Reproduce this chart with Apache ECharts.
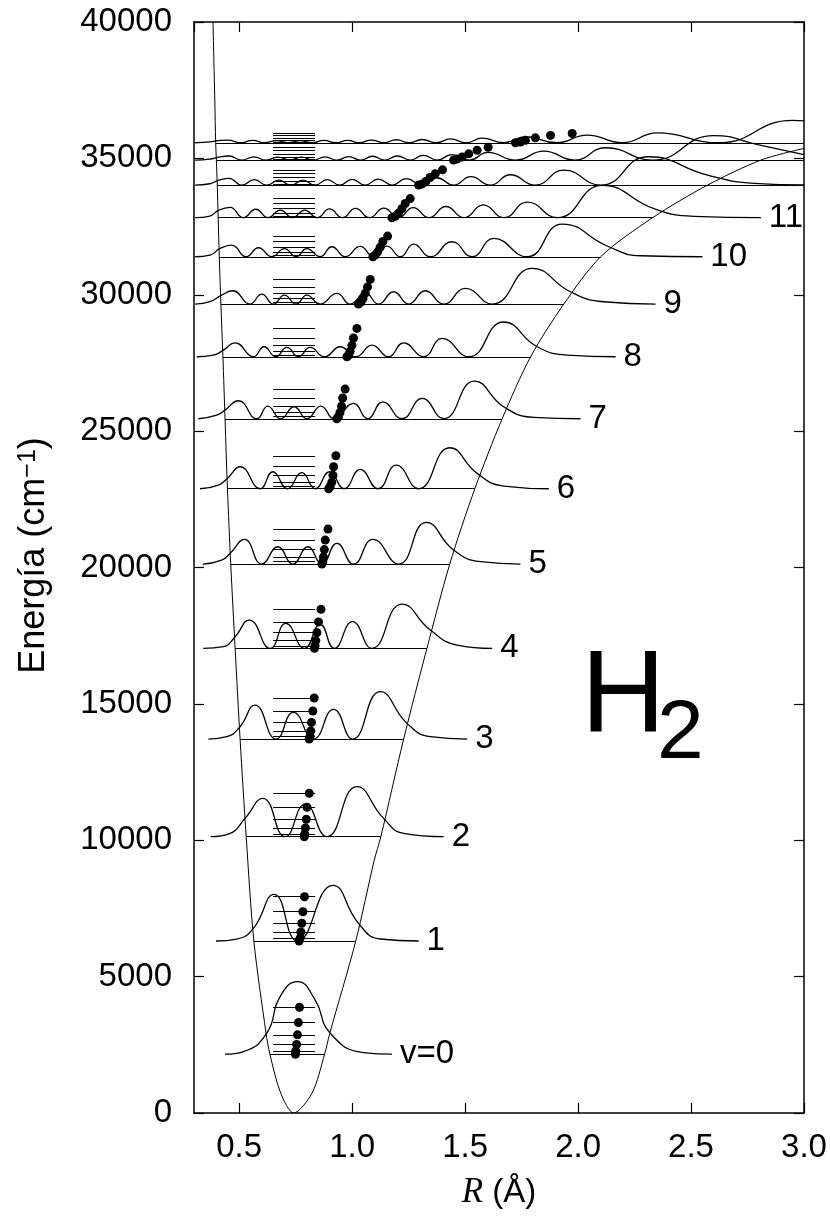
<!DOCTYPE html>
<html><head><meta charset="utf-8">
<script src="https://cdn.jsdelivr.net/npm/echarts@6/dist/echarts.min.js"></script>
<style>html,body{margin:0;padding:0;background:#fff}#c{width:830px;height:1218px}</style>
</head><body><div id="c"></div>
<script>
const FONT = 'Liberation Sans, Arial, Helvetica, sans-serif';

// tick labels
const yTicks = [0, 5000, 10000, 15000, 20000, 25000, 30000, 35000, 40000];
const xTickLabels = ['0.5', '1.0', '1.5', '2.0', '2.5', '3.0'];

// potential energy curve [R (Å), E (cm-1)]
const potential = [
  [0.384,40000],[0.392,37140],[0.396,35572],[0.399,34937],[0.403,34020],[0.407,32825],
  [0.412,31393],[0.419,29658],[0.428,27726],[0.4374,25453],[0.448,22888],[0.4626,20126],
  [0.482,17035],[0.504,13711],[0.531,10130],[0.565,6306],[0.619,2921],[0.636,2155],
  [0.684,722],[0.741,0],[0.822,722],[0.878,2155],[0.901,2921],[1.016,6306],[1.098,9275],
  [1.127,10130],[1.228,13711],[1.331,17035],[1.432,20126],[1.543,22888],[1.664,25453],
  [1.790,27726],[1.937,29658],[2.10,31393],[2.33,32825],[2.573,34020],[2.809,34937],[3.0,35365]
];

// vibrational levels
const levelE = [2155, 6306, 10130, 13711, 17035, 20126, 22888, 25453, 27726, 29658, 31393, 32825, 34020, 34937, 35572];
const leftTP = [0.636, 0.565, 0.531, 0.504, 0.482, 0.4626, 0.448, 0.4374, 0.428, 0.419, 0.412, 0.407, 0.403, 0.399, 0.396];
const rightTP = [0.88, 1.016, 1.127, 1.228, 1.331, 1.432, 1.543, 1.664, 1.790, 1.937, 2.10, 2.33, 3.0, 3.0, 3.0];
const levelLabels = ['v=0', '1', '2', '3', '4', '5', '6', '7', '8', '9', '10', '11'];

// probability densities, [R, height above level]
const wave0 = [[0.437,0],[0.519,98],[0.622,770],[0.681,2114],[0.758,2664],[0.836,1992],[0.903,770],[1.05,61],[1.176,0]];
const wave1 = [[0.3975,0],[0.489,73],[0.563,464],[0.6546,1711],[0.758,0],[0.9148,2041],[1.028,648],[1.124,73],[1.294,0]];
const wave2 = [[0.374,0],[0.46,122],[0.526,672],[0.6045,1405],[0.7034,0],[0.792,1198],[0.888,0],[1.021,1833],[1.139,672],[1.228,122],[1.405,0]];
const wave3 = [[0.3635,0],[0.445,86],[0.504,452],[0.570,1246],[0.6635,0],[0.740,978],[0.829,0],[0.9175,1088],[1.002,0],[1.1245,1735],[1.243,574],[1.346,86],[1.509,0]];
const wave4 = [[0.341,0],[0.43,61],[0.482,428],[0.545,1039],[0.637,0],[0.7065,917],[0.789,0],[0.8585,880],[0.9206,0],[1.0017,978],[1.0875,0],[1.2206,1625],[1.346,672],[1.464,122],[1.62,0]];
const wave5 = [[0.3385,0],[0.4226,147],[0.4596,391],[0.523,904],[0.600,0],[0.671,635],[0.7375,0],[0.804,635],[0.866,0],[0.9325,758],[1.006,0],[1.092,904],[1.2056,0],[1.328,1528],[1.449,513],[1.568,86],[1.745,0]];
const wave6 = [[0.3266,0],[0.408,134],[0.4477,379],[0.504,806],[0.5926,0],[0.649,623],[0.7137,0],[0.777,587],[0.8364,0],[0.900,623],[0.9649,0],[1.0358,709],[1.1142,0],[1.1954,868],[1.294,0],[1.4318,1503],[1.553,562],[1.671,98],[1.8706,0]];
const wave7 = [[0.319,0],[0.4006,134],[0.4374,318],[0.4965,660],[0.578,0],[0.6266,464],[0.684,0],[0.743,440],[0.7995,0],[0.8616,464],[0.9206,0],[1.006,562],[1.068,0],[1.136,623],[1.2206,0],[1.31,745],[1.405,0],[1.541,1381],[1.671,440],[1.804,49],[2.011,0]];
const wave8 = [[0.312,0],[0.3857,61],[0.430,244],[0.4817,513],[0.563,0],[0.610,367],[0.662,0],[0.711,342],[0.7624,0],[0.8141,342],[0.8777,0],[0.947,367],[1.0167,0],[1.0876,428],[1.161,0],[1.228,513],[1.316,0],[1.398,672],[1.516,0],[1.670,1275],[1.819,367],[1.952,61],[2.166,0]];
const wave9 = [[0.305,0],[0.371,86],[0.4226,330],[0.4715,489],[0.548,0],[0.600,367],[0.6516,0],[0.700,330],[0.752,0],[0.7994,330],[0.8585,0],[0.9324,391],[0.9915,0],[1.058,415],[1.117,0],[1.1835,452],[1.25,0],[1.324,489],[1.405,0],[1.501,574],[1.62,0],[1.797,1309],[1.966,452],[2.113,86],[2.343,0]];
const wave10 = [[0.305,0],[0.371,61],[0.4152,305],[0.467,428],[0.5305,0],[0.5852,330],[0.6443,0],[0.7004,300],[0.752,0],[0.7994,300],[0.8585,0],[0.9102,367],[0.9693,0],[1.0358,380],[1.0949,0],[1.154,390],[1.2131,0],[1.272,464],[1.346,0],[1.4422,550],[1.531,0],[1.627,672],[1.774,0],[1.930,1198],[2.136,367],[2.277,37],[2.55,0]];
const wave11 = [[0.305,0],[0.37,61],[0.41,280],[0.4596,379],[0.518,0],[0.573,310],[0.628,0],[0.682,280],[0.736,0],[0.79,280],[0.845,0],[0.9,320],[0.957,0],[1.015,340],[1.077,0],[1.14,350],[1.205,0],[1.27,370],[1.34,0],[1.415,410],[1.495,0],[1.58,470],[1.672,0],[1.775,574],[1.908,0],[2.107,1185],[2.336,331],[2.513,49],[2.809,0]];
const wave12 = [[0.305,0],[0.37,50],[0.41,180],[0.455,250],[0.511,0],[0.567,200],[0.6215,0],[0.676,180],[0.729,0],[0.782,180],[0.836,0],[0.89,200],[0.945,0],[1.0,210],[1.0575,0],[1.115,220],[1.1775,0],[1.24,240],[1.3075,0],[1.375,270],[1.45,0],[1.525,310],[1.6125,0],[1.70,380],[1.81,0],[1.937,550],[2.10,0],[2.31,1040],[2.573,367],[2.78,63],[3.0,5]];
const wave13 = [[0.305,0],[0.37,35],[0.41,110],[0.455,150],[0.51,0],[0.565,120],[0.6185,0],[0.672,110],[0.724,0],[0.776,110],[0.828,0],[0.88,120],[0.9325,0],[0.985,130],[1.0375,0],[1.09,140],[1.145,0],[1.20,150],[1.2575,0],[1.315,170],[1.3775,0],[1.44,200],[1.52,0],[1.60,280],[1.724,0],[1.848,330],[1.985,0],[2.122,452],[2.33,0],[2.6,900],[2.8,560],[3.0,200]];
const wave14 = [[0.305,0],[0.37,30],[0.405,75],[0.45,100],[0.505,0],[0.56,90],[0.6125,0],[0.665,80],[0.7175,0],[0.77,80],[0.8225,0],[0.875,85],[0.9275,0],[0.98,90],[1.0325,0],[1.085,100],[1.14,0],[1.195,110],[1.2525,0],[1.31,120],[1.3725,0],[1.435,140],[1.505,0],[1.575,170],[1.67,0],[1.77,220],[1.905,0],[2.041,281],[2.196,0],[2.351,366],[2.62,0],[2.95,820],[3.0,800]];
const waves = [wave0, wave1, wave2, wave3, wave4, wave5, wave6, wave7, wave8, wave9, wave10, wave11, wave12, wave13, wave14];

// rotational levels J = 0..5 (height above vibrational level) and their mean R
const rotDE = [
  [0,119,360,710,1160,1723],[0,115,330,650,1074,1624],[0,105,320,640,1080,1590],
  [0,100,300,610,1026,1503],[0,95,285,575,970,1430],[0,88,265,530,880,1283],
  [0,80,240,490,806,1209],[0,75,225,460,760,1089],[0,65,200,420,690,1040],
  [0,70,200,400,630,904],[0,60,180,350,560,758],[0,55,165,330,520,700],
  [0,45,140,280,420,560],[0,40,115,230,360,470],[0,30,90,180,270,340]
];
const dotR = [
  [0.749,0.750,0.754,0.758,0.762,0.767],[0.765,0.770,0.773,0.777,0.782,0.789],
  [0.788,0.790,0.793,0.797,0.800,0.810],[0.810,0.814,0.817,0.820,0.826,0.832],
  [0.833,0.836,0.839,0.844,0.851,0.862],[0.866,0.870,0.873,0.877,0.881,0.893],
  [0.896,0.903,0.910,0.915,0.918,0.928],[0.932,0.939,0.946,0.953,0.958,0.969],
  [0.977,0.984,0.991,0.999,1.006,1.021],[1.028,1.039,1.048,1.058,1.068,1.080],
  [1.092,1.102,1.113,1.124,1.136,1.157],[1.176,1.191,1.205,1.220,1.235,1.257],
  [1.294,1.310,1.327,1.345,1.368,1.400],[1.449,1.464,1.487,1.516,1.553,1.602],
  [1.723,1.745,1.767,1.811,1.878,1.974]
];
const rotLineR = [0.65, 0.836];

const chart = echarts.init(document.getElementById('c'), null, {renderer: 'canvas'});

const series = [];
series.push({type: 'line', data: potential, smooth: 0.3, symbol: 'none', silent: true,
  lineStyle: {color: '#000', width: 1}, z: 2});

waves.forEach((w, v) => {
  series.push({
    type: 'line', symbol: 'none', silent: true, smooth: 0.5,
    data: w.map(p => [p[0], levelE[v] + p[1]]),
    lineStyle: {color: '#000', width: 1.3}, z: 3,
    endLabel: v < levelLabels.length ? {show: true, formatter: levelLabels[v], fontSize: 33, color: '#000', fontFamily: FONT, distance: 8} : {show: false}
  });
});

const baseLines = levelE.map((E, v) => ({coords: [[leftTP[v], E], [rightTP[v], E]]}));
series.push({type: 'lines', coordinateSystem: 'cartesian2d', silent: true, data: baseLines,
  lineStyle: {color: '#000', width: 1.2, opacity: 1}, z: 3});

const rotLines = [];
const dots = [];
levelE.forEach((E, v) => {
  rotDE[v].forEach((d, j) => {
    rotLines.push({coords: [[rotLineR[0], E + d], [rotLineR[1], E + d]]});
    dots.push([dotR[v][j], E + d]);
  });
});
series.push({type: 'lines', coordinateSystem: 'cartesian2d', silent: true, data: rotLines,
  lineStyle: {color: '#000', width: 1.2, opacity: 1}, z: 3});
series.push({type: 'scatter', data: dots, symbol: 'circle', symbolSize: 9, silent: true,
  itemStyle: {color: '#000', opacity: 1}, z: 5});

const axisLine = {show: true, onZero: false, lineStyle: {color: '#000', width: 1.5}};
const axisTick = {show: true, inside: true, length: 10, lineStyle: {color: '#000', width: 1.2}};

const option = {
  animation: false,
  backgroundColor: '#fff',
  grid: {left: 194, right: 26, top: 22, bottom: 105, containLabel: false},
  xAxis: [
    {type: 'value', min: 0.3, max: 3.0, minInterval: 0.5, maxInterval: 0.5, splitNumber: 5, position: 'bottom',
     axisLine, axisTick, splitLine: {show: false},
     axisLabel: {fontSize: 33, color: '#000', fontFamily: FONT, margin: 18, showMinLabel: false,
       formatter: v => { const s = v.toFixed(1); return xTickLabels.includes(s) ? s : ''; }},
     name: '{i|R} (Å)', nameLocation: 'middle', nameGap: 62,
     nameTextStyle: {fontSize: 33, color: '#000', fontFamily: FONT,
       rich: {i: {fontSize: 35, fontStyle: 'italic', fontFamily: 'Liberation Serif, Times New Roman, serif', color: '#000'}}}},
    {type: 'value', min: 0.3, max: 3.0, minInterval: 0.5, maxInterval: 0.5, splitNumber: 5, position: 'top',
     axisLine, axisTick, splitLine: {show: false}, axisLabel: {show: false}}
  ],
  yAxis: [
    {type: 'value', min: 0, max: 40000, interval: 5000, position: 'left',
     axisLine, axisTick, splitLine: {show: false},
     axisLabel: {fontSize: 33, color: '#000', fontFamily: FONT, margin: 22,
       formatter: v => yTicks.includes(v) ? String(v) : ''},
     name: '{a|Energía (cm}{s|−1}{a|)}', nameLocation: 'middle', nameGap: 142, nameRotate: 90,
     nameTextStyle: {color: '#000', fontFamily: FONT, padding: [0, 0, 0, 24],
       rich: {a: {fontSize: 36, fontFamily: FONT, color: '#000'},
              s: {fontSize: 25, fontFamily: FONT, color: '#000', verticalAlign: 'top'}}}},
    {type: 'value', min: 0, max: 40000, interval: 5000, position: 'right',
     axisLine, axisTick, splitLine: {show: false}, axisLabel: {show: false}}
  ],
  graphic: [
    {type: 'text', x: 581, y: 699, silent: true,
     style: {text: 'H', fontSize: 117, fontFamily: FONT, fill: '#000', align: 'left', textAlign: 'left', verticalAlign: 'middle', textVerticalAlign: 'middle'}},
    {type: 'text', x: 657, y: 735, silent: true,
     style: {text: '2', fontSize: 84, fontFamily: FONT, fill: '#000', align: 'left', textAlign: 'left', verticalAlign: 'middle', textVerticalAlign: 'middle'}}
  ],
  series
};
chart.setOption(option);
</script>
</body></html>
